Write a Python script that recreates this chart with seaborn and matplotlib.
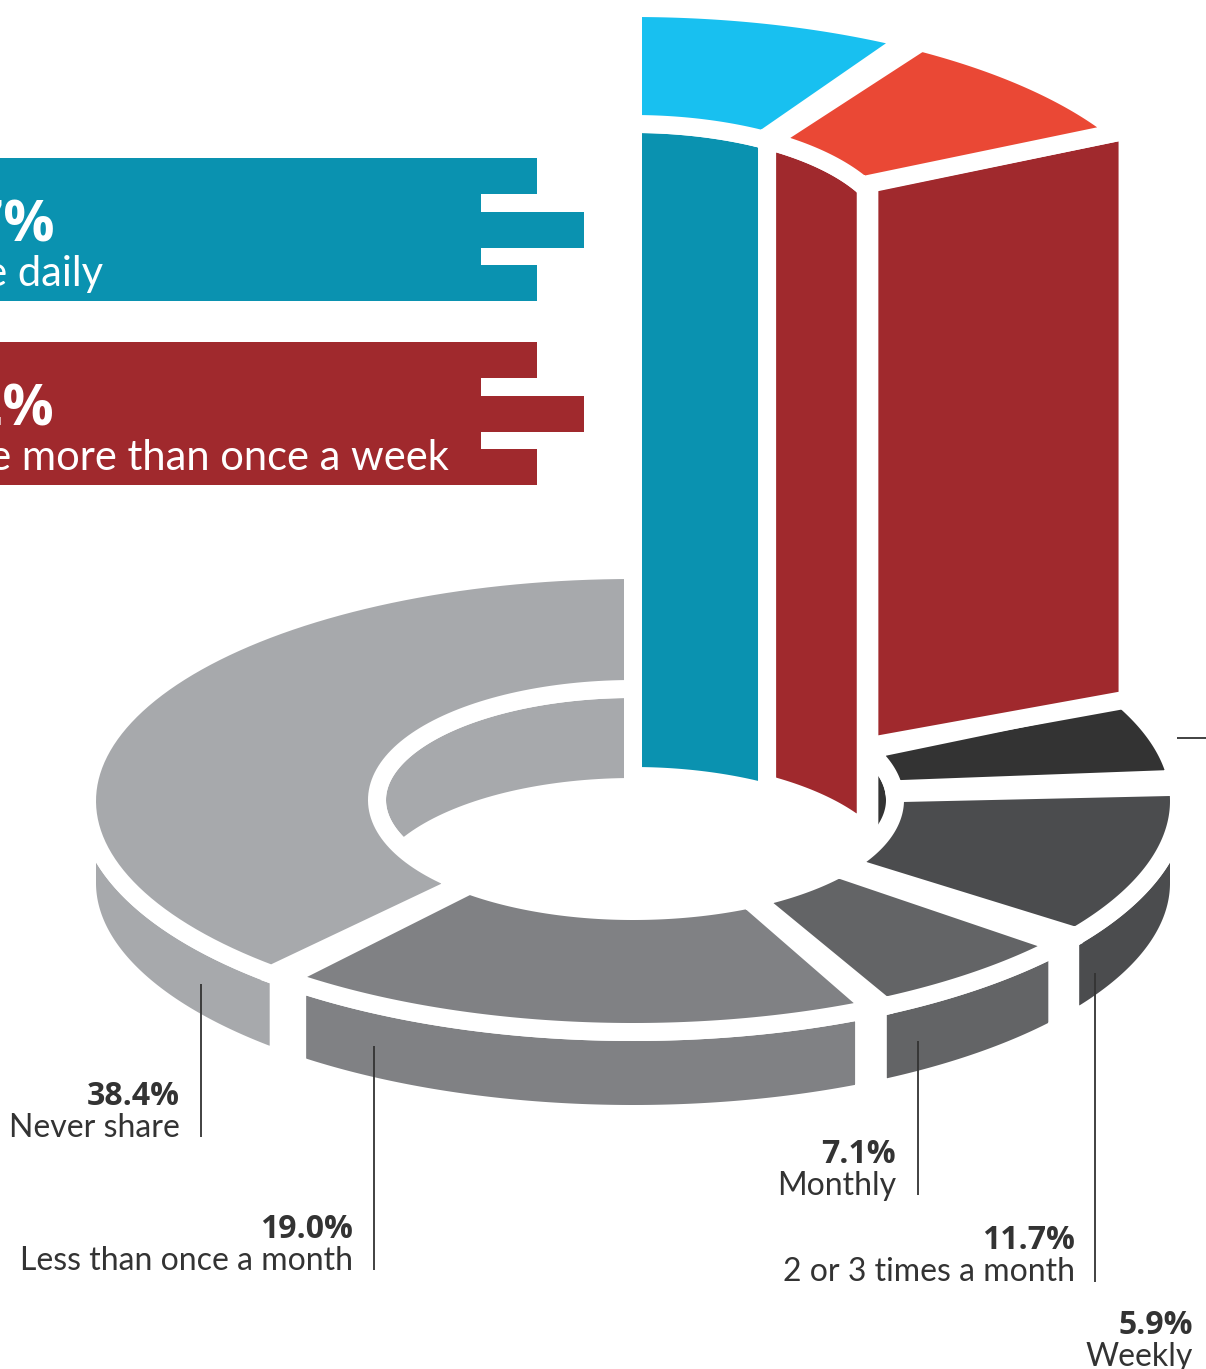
import numpy as np
import matplotlib
matplotlib.use("Agg")
import matplotlib.pyplot as plt
import seaborn as sns

# Share frequency, clockwise from twelve o'clock
categories = ["share daily", "share more than once a week", "Weekly", "2 or 3 times a month",
              "Monthly", "Less than once a month", "Never share"]
values = [8.7, 9.2, 5.9, 11.7, 7.1, 19.0, 38.4]
top_colors = ["#18c0f0", "#ea4835", "#333333", "#4b4c4e", "#636466", "#808184", "#a7a9ac"]
wall_colors = ["#0a92b0", "#a0292d", "#333333", "#4b4c4e", "#636466", "#808184", "#a7a9ac"]

sns.set_theme(style="white", rc={"axes.facecolor": "white", "figure.facecolor": "white"})
plt.rcParams["font.family"] = ["Lato", "DejaVu Sans"]

# Projection of the ring onto the page, in pixels: centre x and y, left and right radius, vertical radius
OUT = (633, 801, 546, 546, 231)
HOLE = (633, 800, 256, 262, 111)
RAISED_OUT = (633, 801, 546, 546, 229)
RAISED_HOLE = (633, 801, 256, 258, 113)
LIFT = 564            # height of the raised segments
BASE_DEPTH = 82       # thickness of the ring
HOLE_DEPTH = (84, 98)           # hole wall depth on the right, and on the left
COLUMN_DEPTH = (88, 80)         # how far the raised inner walls drop into the hole
GAP_LW = 18 * 72 / 100
WHITE = "white"

# Extra widening of the gaps, in degrees, at the clockwise start and end of each segment
TOP_TRIM = [(0, 1.1), (0.5, 1.7), (-1, 1.2), (0.8, 2.0), (0.6, 0.8), (0.5, 2), (-0.3, 0)]
WALL_TRIM = [(0, 0), (0, 0), (0, 0), (0, 1), (1.2, 0), (1.6, 3.8), (-1.3, 0)]

fig = plt.figure(figsize=(12.06, 13.69), dpi=100)
ax = fig.add_axes([0, 0, 1, 1])
ax.set_xlim(0, 1206)
ax.set_ylim(1369, 0)
ax.axis("off")

edges = 90 - np.concatenate([[0], np.cumsum(values)]) * 3.6


def arc(ell, a0, a1, z=0.0, n=90):
    cx, cy, rx_left, rx_right, ry = ell
    t = np.radians(np.linspace(a0, a1, n))
    c = np.cos(t)
    return np.column_stack([cx + np.where(c < 0, rx_left, rx_right) * c, cy - ry * np.sin(t) - z])


def face(points, color, zorder):
    ax.fill(points[:, 0], points[:, 1], facecolor=color, edgecolor=WHITE,
            linewidth=GAP_LW, joinstyle="miter", zorder=zorder)


def ring_top(outer, inner, a0, a1, color, z, zorder):
    face(np.vstack([arc(outer, a0, a1, z), arc(inner, a1, a0, z)]), color, zorder)


def wall(ell, a0, a1, z_top, z_bottom, color, zorder):
    face(np.vstack([arc(ell, a0, a1, z_top), arc(ell, a1, a0, z_bottom)]), color, zorder)


# Hole walls of the lower ring; only the far side can be seen
wall(HOLE, edges[2], 0, 0, -HOLE_DEPTH[0], wall_colors[2], 1)
wall(HOLE, edges[6], edges[7], 0, -HOLE_DEPTH[1], wall_colors[6], 1)

# Outer walls on the near side
for i in (3, 4, 5, 6):
    start = min(edges[i], 0) - WALL_TRIM[i][0]
    end = max(edges[i + 1], -180) + WALL_TRIM[i][1]
    wall(OUT, start, end, 0, -BASE_DEPTH, wall_colors[i], 2)

# Top surfaces of the lower ring
for i in range(2, len(values)):
    ring_top(OUT, HOLE, edges[i] - TOP_TRIM[i][0], edges[i + 1] + TOP_TRIM[i][1], top_colors[i], 0, 3)

# Raised segments: cut face, inner walls, lifted tops
outer_cut = arc(OUT, edges[2], edges[2], 0, n=1)
inner_cut = arc(HOLE, edges[2], edges[2], 0, n=1)
cut = np.vstack([inner_cut + [0, -LIFT - 5], outer_cut + [2, -LIFT - 7], outer_cut + [2, -2], inner_cut + [0, -6]])
face(cut, wall_colors[1], 5)
for i in range(2):
    wall(RAISED_HOLE, edges[i], edges[i + 1], LIFT, -COLUMN_DEPTH[i], wall_colors[i], 6)
    ring_top(RAISED_OUT, RAISED_HOLE, edges[i] - TOP_TRIM[i][0], edges[i + 1] + TOP_TRIM[i][1],
             top_colors[i], LIFT, 7)

# Banner bars with their three-pronged right ends
banners = [(158, wall_colors[0]), (342, wall_colors[1])]
for top, color in banners:
    ax.barh(top + 71.5, 481, height=143, left=0, color=color, linewidth=0, zorder=8)
    ax.barh(top + 18, 56, height=36, left=481, color=color, linewidth=0, zorder=8)
    ax.barh(top + 72, 103, height=36, left=481, color=color, linewidth=0, zorder=8)
    ax.barh(top + 125, 56, height=36, left=481, color=color, linewidth=0, zorder=8)

BOLD = ["Open Sans", "DejaVu Sans"]
ax.text(55, 242, f"{values[0]}%", color=WHITE, fontsize=41, fontweight="bold", family=BOLD, ha="right", va="baseline", zorder=9)
ax.text(103, 286, categories[0], color=WHITE, fontsize=30, ha="right", va="baseline", zorder=9)
ax.text(54, 426, f"{values[1]}%", color=WHITE, fontsize=41, fontweight="bold", family=BOLD, ha="right", va="baseline", zorder=9)
ax.text(449, 470, categories[1], color=WHITE, fontsize=30, ha="right", va="baseline", zorder=9)

# Callouts for the lower ring: (category index, label right edge, value baseline, leader x, top, bottom)
INK = "#333333"
callouts = [
    (6, 180, 1105, 201, 984, 1137),
    (5, 353, 1238, 374, 1046, 1270),
    (4, 896, 1163, 918, 1041, 1195),
    (3, 1075, 1249, 1095, 973, 1282),
]
for idx, right, base, lx, y0, y1 in callouts:
    ax.text(right, base, f"{values[idx]}%", color=INK, fontsize=23, fontweight="bold", family=BOLD, ha="right", va="baseline", zorder=9)
    ax.text(right, base + 32, categories[idx], color=INK, fontsize=23, ha="right", va="baseline", zorder=9)
    ax.plot([lx, lx], [y0, y1], color=INK, lw=1.3, zorder=9, solid_capstyle="butt")

ax.text(1193, 1334, f"{values[2]}%", color=INK, fontsize=23, fontweight="bold", family=BOLD, ha="right", va="baseline", zorder=9)
ax.text(1193, 1366, categories[2], color=INK, fontsize=23, ha="right", va="baseline", zorder=9)
ax.plot([1177, 1206], [738, 738], color=INK, lw=1.3, zorder=9, solid_capstyle="butt")

fig.savefig("out.png", dpi=100)
